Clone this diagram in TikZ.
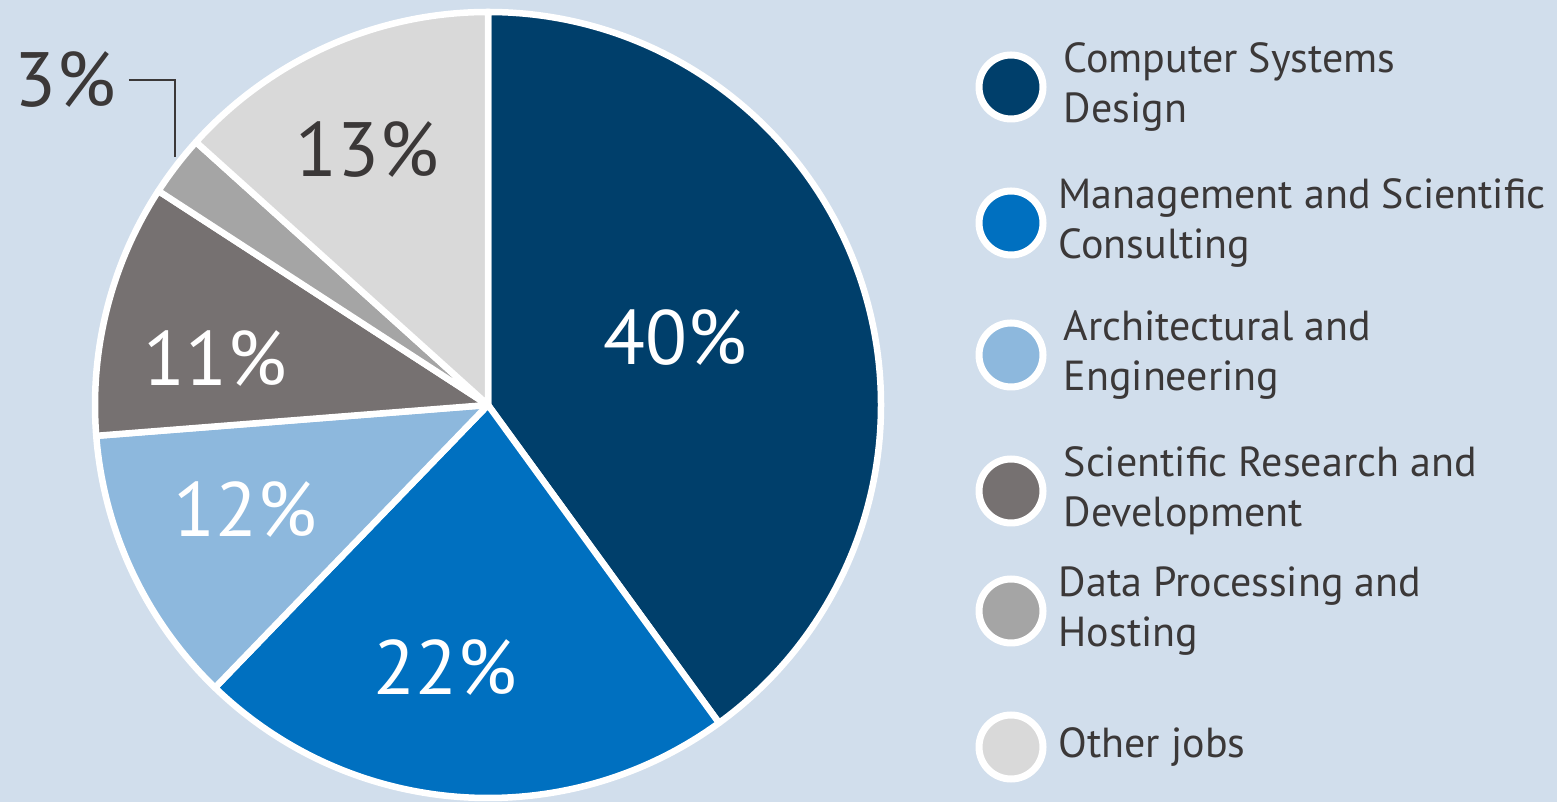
\documentclass[tikz,border=0pt]{standalone}
\usepackage{fontspec}
\setmainfont{PT Sans}
\usetikzlibrary{positioning}

\definecolor{bgblue}{HTML}{D1DEEC}
\definecolor{navy}{HTML}{003F6B}
\definecolor{midblue}{HTML}{0070C0}
\definecolor{lightblue}{HTML}{8DB8DD}
\definecolor{darkgray}{HTML}{767171}
\definecolor{midgray}{HTML}{A5A5A5}
\definecolor{lightgray}{HTML}{D9D9D9}
\definecolor{txtgray}{HTML}{3B3838}

\tikzset{
	slice/.style={draw=white, line width=6.5pt, line join=round},
	pct/.style={inner sep=0pt, font=\fontsize{77}{80}\selectfont},
	dot/.style={circle, draw=white, line width=7pt, minimum size=64pt, inner sep=0pt},
	legtext/.style={inner sep=0pt, align=left, text=txtgray, font=\fontsize{42}{50}\selectfont},
	leader/.style={draw=txtgray, line width=1.2pt}
}

\begin{document}
\begin{tikzpicture}[x=1pt, y=1pt]
	% Hintergrund
	\fill[bgblue] (0,0) rectangle (1557,802);
	\useasboundingbox (0,0) rectangle (1557,802);

	% Tortenstuecke
	\coordinate (center) at (488,397);
	\foreach \a/\b/\col in {90/-54/navy, -54/-134/midblue, -134/-175.5/lightblue,
		-175.5/-213/darkgray, -213/-222/midgray, -222/-270/lightgray}
		\filldraw[slice, fill=\col] (center) -- +(\a:393)
			arc[start angle=\a, end angle=\b, radius=393] -- cycle;

	% Prozentwerte
	\node[pct, text=white] (p40) at (675,464) {40\%};
	\node[pct, text=white] (p22) at (445,134) {22\%};
	\node[pct, text=white] (p12) at (245,292) {12\%};
	\node[pct, text=white] (p11) at (215,443) {11\%};
	\node[pct, text=txtgray] (p13) at (367,652) {13\%};
	\node[pct, text=txtgray] (p3) at (65,722) {3\%};
	\coordinate (tip3) at (175,645);
	\draw[leader] ([xshift=13pt]p3.east) -| (tip3);

	% Legende
	\node[dot, fill=navy] (c1) at (1011,715) {};
	\node[legtext, right=17pt of c1] (l1) {Computer Systems\\Design};
	\node[dot, fill=midblue] (c2) at (1011,579) {};
	\node[legtext, right=12pt of c2] (l2) {Management and Scientific\\Consulting};
	\node[dot, fill=lightblue] (c3) at (1011,447) {};
	\node[legtext, right=17pt of c3] (l3) {Architectural and\\Engineering};
	\node[dot, fill=darkgray] (c4) at (1011,311) {};
	\node[legtext, right=17pt of c4] (l4) {Scientific Research and\\Development};
	\node[dot, fill=midgray] (c5) at (1011,191) {};
	\node[legtext, right=12pt of c5] (l5) {Data Processing and\\Hosting};
	\node[dot, fill=lightgray] (c6) at (1011,55) {};
	\node[legtext, right=12pt of c6] (l6) {Other jobs};
\end{tikzpicture}
\end{document}
